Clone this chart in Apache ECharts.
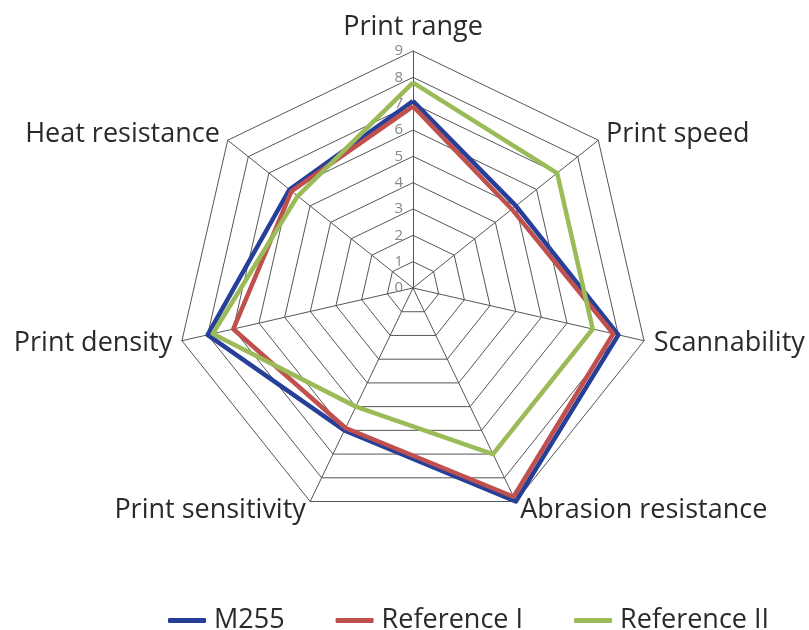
<!DOCTYPE html>
<html>
<head>
<meta charset="utf-8">
<script src="https://cdn.jsdelivr.net/npm/echarts@6/dist/echarts.min.js"></script>
<style>
html,body{margin:0;padding:0;background:#fff;}
#chart{width:809px;height:630px;}
</style>
</head>
<body>
<div id="chart"></div>
<script>
// Axes in clockwise order starting at the top
const categories = ['Print range', 'Print speed', 'Scannability', 'Abrasion resistance', 'Print sensitivity', 'Print density', 'Heat resistance'];
const seriesNames = ['M255', 'Reference I', 'Reference II'];
const m255 = [7.1, 5.0, 8.0, 9.0, 6.0, 8.0, 6.0];
const referenceI = [6.9, 4.8, 7.8, 8.8, 5.9, 7.0, 5.9];
const referenceII = [7.8, 7.0, 7.0, 7.0, 5.0, 7.8, 5.6];
const axisMax = 9;

const colors = ['#263f98', '#c0504d', '#9bbb59'];
const fontFam = '"Open Sans", "Liberation Sans", sans-serif';

// ECharts lays radar indicators counter-clockwise; reorder to draw clockwise
function toCCW(arr) { return [arr[0]].concat(arr.slice(1).reverse()); }

const indicator = toCCW(categories).map((name, i) => ({
  name: name, min: 0, max: axisMax,
  axisLabel: { show: i === 0 }
}));

const chart = echarts.init(document.getElementById('chart'), null, { renderer: 'canvas' });
chart.setOption({
  animation: false,
  color: colors,
  legend: {
    data: seriesNames,
    top: 602,
    left: 163,
    icon: 'roundRect',
    itemWidth: 38,
    itemHeight: 5,
    itemGap: 51,
    textStyle: { fontSize: 27, color: '#2a2a2a', fontFamily: fontFam, fontWeight: 'normal', padding: [0, 0, 0, 3] }
  },
  radar: {
    center: [413, 288],
    radius: 237,
    shape: 'polygon',
    splitNumber: 9,
    startAngle: 90,
    indicator: indicator,
    axisName: { color: '#2a2a2a', fontSize: 27, fontFamily: fontFam, fontWeight: 'normal' },
    nameGap: 10,
    splitArea: { show: false },
    splitLine: { lineStyle: { color: '#555', width: 1 } },
    axisLine: { lineStyle: { color: '#555', width: 1 } },
    axisTick: { show: false },
    axisLabel: { show: false, color: '#888', fontSize: 15, fontFamily: fontFam, margin: 10 }
  },
  series: [{
    type: 'radar',
    symbol: 'none',
    data: [
      { name: seriesNames[0], value: toCCW(m255), lineStyle: { color: colors[0], width: 4.5 }, itemStyle: { color: colors[0] } },
      { name: seriesNames[1], value: toCCW(referenceI), lineStyle: { color: colors[1], width: 4.5 }, itemStyle: { color: colors[1] } },
      { name: seriesNames[2], value: toCCW(referenceII), lineStyle: { color: colors[2], width: 4.5 }, itemStyle: { color: colors[2] } }
    ]
  }]
});
</script>
</body>
</html>
